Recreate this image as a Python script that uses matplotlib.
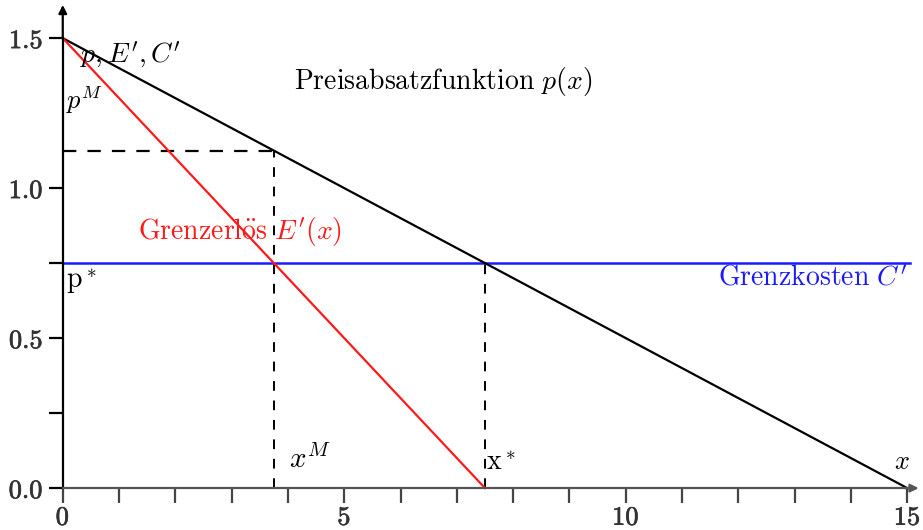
import matplotlib.pyplot as plt
import matplotlib.patheffects as pe

plt.rcParams['mathtext.fontset'] = 'cm'
plt.rcParams['font.family'] = 'serif'
plt.rcParams['font.serif'] = ['DejaVu Serif']

# linear demand and cost
x_end = [0, 15]
price = [1.5, 0.0]          # Preisabsatzfunktion p(x)
mr_x = [0, 7.5]
marginal_revenue = [1.5, 0.0]   # Grenzerlös E'(x)
mc_x = [0, 15.05]
marginal_cost = [0.75, 0.75]    # Grenzkosten C'

x_monopoly = 3.75
p_monopoly = 1.125
x_star = 7.5
p_star = 0.75

x_ticks = [0, 1, 2, 3, 4, 5, 6, 7, 8, 9, 10, 11, 12, 13, 14, 15]
x_ticklabels = ['$0$', '', '', '', '', '$5$', '', '', '', '',
                '$10$', '', '', '', '', '$15$']
y_ticks = [0, 0.25, 0.5, 0.75, 1.0, 1.5]
y_ticklabels = ['$0.0$', '', '$0.5$', '', '$1.0$', '$1.5$']

fig = plt.figure(figsize=(9.23, 5.30), dpi=100)
ax = fig.add_axes([0.068, 0.079, 0.915, 0.849])
ax.set_xlim(0, 15)
ax.set_ylim(0, 1.5)

for side in ['top', 'right']:
    ax.spines[side].set_visible(False)
ax.spines['left'].set_linewidth(1.6)
ax.spines['bottom'].set_linewidth(1.6)
ax.spines['bottom'].set_color('#555555')

# arrow heads on the axes
ax.annotate('', xy=(0, 1.62), xytext=(0, 1.49), xycoords='data',
            arrowprops=dict(arrowstyle='-|>', color='black', lw=1.6, mutation_scale=12),
            annotation_clip=False)
ax.annotate('', xy=(15.25, 0), xytext=(14.9, 0), xycoords='data',
            arrowprops=dict(arrowstyle='-|>', color='#555555', lw=1.6, mutation_scale=12),
            annotation_clip=False)

ax.set_xticks(x_ticks)
ax.set_xticklabels(x_ticklabels)
ax.set_yticks(y_ticks)
ax.set_yticklabels(y_ticklabels)
ax.tick_params(axis='x', direction='out', length=11, width=1.6, color='#444444',
               pad=1, labelsize=19)
ax.tick_params(axis='y', direction='out', length=10, width=1.6, color='black',
               pad=4, labelsize=19)
# slightly heavier tick digits
for lab in ax.get_xticklabels() + ax.get_yticklabels():
    lab.set_path_effects([pe.withStroke(linewidth=0.5, foreground='#333333')])
    lab.set_color('#333333')

# guide lines
ax.plot([0, x_monopoly], [p_monopoly, p_monopoly], color='black', lw=1.6,
        linestyle=(0, (6, 5)), clip_on=False)
ax.plot([x_monopoly, x_monopoly], [0, p_monopoly], color='black', lw=1.4,
        linestyle=(0, (5, 5)), clip_on=False)
ax.plot([x_star, x_star], [0, p_star], color='black', lw=1.4,
        linestyle=(0, (5, 5)), clip_on=False)

ax.plot(mc_x, marginal_cost, color='#1a1aff', lw=1.8, clip_on=False)
ax.plot(x_end, price, color='black', lw=1.6, clip_on=False)
ax.plot(mr_x, marginal_revenue, color='#ff1a1a', lw=1.6, clip_on=False)

# labels
ax.text(0.3, 1.445, r"$p,E',C'$", fontsize=20, va='center', ha='left')
ax.text(0.05, 1.295, r"$p^M$", fontsize=19, va='center', ha='left')
ax.text(6.75, 1.355, r"$\mathrm{Preisabsatzfunktion}\ p(x)$", fontsize=20,
        va='center', ha='center')
ax.text(3.15, 0.855, r"$\mathrm{Grenzerl\ddot{o}s}\ E'(x)$", fontsize=20,
        va='center', ha='center', color='#ff1a1a')
ax.text(0.05, 0.69, r"$\mathrm{p}^*$", fontsize=20, va='center', ha='left')
ax.text(15.0, 0.70, r"$\mathrm{Grenzkosten}\ C'$", fontsize=20, va='center',
        ha='right', color='#1a1aff')
ax.text(4.02, 0.095, r"$x^M$", fontsize=21, va='center', ha='left')
ax.text(7.52, 0.085, r"$\mathrm{x}^*$", fontsize=20, va='center', ha='left')
ax.text(14.9, 0.09, r"$x$", fontsize=19, va='center', ha='center')

plt.savefig('out.png', dpi=100)
plt.close()
